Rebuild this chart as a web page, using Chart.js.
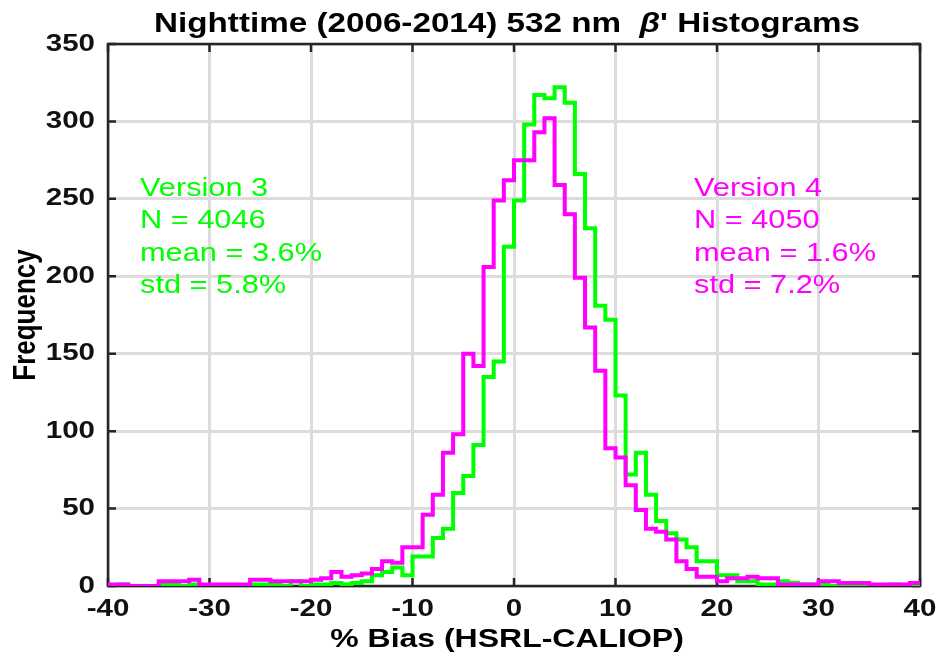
<!DOCTYPE html>
<html>
<head>
<meta charset="utf-8">
<title>Nighttime 532 nm beta' histograms</title>
<script src="https://cdn.jsdelivr.net/npm/chart.js@4.4.1/dist/chart.umd.min.js"></script>
<style>
  html, body { margin: 0; padding: 0; background: #fff; }
  #wrap { width: 936px; height: 659px; }
</style>
</head>
<body>
<div id="wrap"><canvas id="chart" width="936" height="659"></canvas></div>
<script>
// ---------- Data (1 % bins) ----------
const binEdges = [
  -40, -39, -38, -37, -36, -35, -34, -33, -32, -31,
  -30, -29, -28, -27, -26, -25, -24, -23, -22, -21,
  -20, -19, -18, -17, -16, -15, -14, -13, -12, -11,
  -10, -9, -8, -7, -6, -5, -4, -3, -2, -1,
  0, 1, 2, 3, 4, 5, 6, 7, 8, 9,
  10, 11, 12, 13, 14, 15, 16, 17, 18, 19,
  20, 21, 22, 23, 24, 25, 26, 27, 28, 29,
  30, 31, 32, 33, 34, 35, 36, 37, 38, 39, 40
];

// Version 3 (green)
const v3Counts = [
  0, 1, 0, 0, 0, 1, 1, 0, 1, 0,
  0, 0, 0, 0, 1, 1, 1, 0, 3, 0,
  1, 1, 2, 1, 2, 3, 7, 9, 12, 7,
  19, 19, 31, 37, 60, 71, 91, 135, 145, 219,
  249, 298, 317, 315, 322, 312, 266, 231, 181, 172,
  123, 72, 86, 59, 42, 34, 30, 25, 16, 16,
  7, 7, 3, 3, 1, 1, 3, 2, 1, 1,
  1, 0, 1, 0, 1, 0, 0, 1, 0, 1
];

// Version 4 (magenta)
const v4Counts = [
  1, 1, 0, 0, 0, 3, 3, 3, 4, 1,
  1, 1, 1, 1, 4, 4, 3, 3, 3, 3,
  4, 5, 9, 6, 7, 8, 11, 16, 15, 25,
  25, 46, 59, 86, 98, 150, 142, 206, 249, 262,
  275, 275, 293, 302, 259, 240, 199, 167, 139, 89,
  83, 65, 49, 37, 35, 30, 16, 11, 6, 6,
  3, 5, 5, 6, 5, 5, 1, 1, 1, 1,
  3, 3, 2, 2, 2, 1, 1, 1, 1, 2
];

const xTicks = [-40, -30, -20, -10, 0, 10, 20, 30, 40];
const yTicks = [0, 50, 100, 150, 200, 250, 300, 350];

const v3Text = ["Version 3", "N = 4046", "mean = 3.6%", "std = 5.8%"];
const v4Text = ["Version 4", "N = 4050", "mean = 1.6%", "std = 7.2%"];

const GREEN = "#00ff00";
const MAGENTA = "#ff00ff";
const AXIS = "#262626";
const FONT = "'Liberation Sans', Arial, Helvetica, sans-serif";
const SX = 1.23; // the figure is stretched sideways, so is its text

// stairs: each left edge carries its bin count, last edge repeats the final bin
function stairs(counts) {
  return binEdges.map((e, i) => ({ x: e, y: counts[Math.min(i, counts.length - 1)] }));
}

function wideText(ctx, s, x, y, align) {
  ctx.save();
  ctx.translate(x, y);
  ctx.scale(SX, 1);
  ctx.textAlign = align;
  ctx.fillText(s, 0, 0);
  ctx.restore();
}

// ---------- Frame, inward ticks, texts ----------
const decor = {
  id: "decor",
  beforeDatasetsDraw(chart) {
    const { ctx, chartArea: a, scales: { x, y } } = chart;
    ctx.save();
    ctx.strokeStyle = AXIS;
    ctx.lineWidth = 2.5;
    ctx.strokeRect(a.left, a.top, a.right - a.left, a.bottom - a.top);
    ctx.beginPath();
    xTicks.forEach(v => {
      const px = x.getPixelForValue(v);
      ctx.moveTo(px, a.bottom); ctx.lineTo(px, a.bottom - 8);
      ctx.moveTo(px, a.top); ctx.lineTo(px, a.top + 8);
    });
    yTicks.forEach(v => {
      const py = y.getPixelForValue(v);
      ctx.moveTo(a.left, py); ctx.lineTo(a.left + 8, py);
      ctx.moveTo(a.right, py); ctx.lineTo(a.right - 8, py);
    });
    ctx.stroke();
    ctx.restore();
  },
  afterDraw(chart) {
    const { ctx, chartArea: a, scales: { x, y } } = chart;
    const cx = 507;
    ctx.save();
    ctx.fillStyle = "#111";

    // tick labels
    ctx.font = "bold 24px " + FONT;
    ctx.textBaseline = "middle";
    xTicks.forEach(v => wideText(ctx, String(v), x.getPixelForValue(v), a.bottom + 23, "center"));
    yTicks.forEach(v => wideText(ctx, String(v), a.left - 13, y.getPixelForValue(v), "right"));

    // title with italic beta
    ctx.fillStyle = "#000";
    ctx.textBaseline = "alphabetic";
    const parts = [
      { t: "Nighttime (2006-2014) 532 nm  ", f: "bold 27px " + FONT },
      { t: "\u03b2", f: "italic bold 27px " + FONT },
      { t: "' Histograms", f: "bold 27px " + FONT }
    ];
    let total = 0;
    parts.forEach(p => { ctx.font = p.f; p.w = ctx.measureText(p.t).width * SX; total += p.w; });
    let tx = cx - total / 2;
    parts.forEach(p => { ctx.font = p.f; wideText(ctx, p.t, tx, 32, "left"); tx += p.w; });

    // axis titles
    ctx.font = "bold 26px " + FONT;
    ctx.textBaseline = "middle";
    wideText(ctx, "% Bias (HSRL-CALIOP)", cx, 640, "center");
    ctx.save();
    ctx.translate(26, (a.top + a.bottom) / 2);
    ctx.rotate(-Math.PI / 2);
    ctx.scale(1, SX);
    ctx.textAlign = "center";
    ctx.fillText("Frequency", 0, 0);
    ctx.restore();

    // stats
    ctx.font = "25px " + FONT;
    ctx.fillStyle = GREEN;
    v3Text.forEach((s, i) => wideText(ctx, s, 140, 189 + i * 32.5, "left"));
    ctx.fillStyle = MAGENTA;
    v4Text.forEach((s, i) => wideText(ctx, s, 694, 189 + i * 32.5, "left"));
    ctx.restore();
  }
};

new Chart(document.getElementById("chart"), {
  type: "line",
  data: {
    datasets: [
      { label: "Version 3", data: stairs(v3Counts), borderColor: GREEN, order: 2 },
      { label: "Version 4", data: stairs(v4Counts), borderColor: MAGENTA, order: 1 }
    ]
  },
  options: {
    responsive: false,
    animation: false,
    parsing: false,
    layout: { padding: { left: 0, right: 16, top: 44, bottom: 0 } },
    elements: {
      line: { borderWidth: 4, stepped: "before", tension: 0, borderJoinStyle: "miter", borderCapStyle: "butt" },
      point: { radius: 0 }
    },
    plugins: { legend: { display: false }, tooltip: { enabled: false }, title: { display: false } },
    scales: {
      x: {
        type: "linear",
        min: -40, max: 40,
        afterBuildTicks: s => { s.ticks = xTicks.map(v => ({ value: v })); },
        afterFit: s => { s.height = 73; s.paddingLeft = 0; s.paddingRight = 0; },
        grid: { color: "#dcdcdc", lineWidth: 3, drawTicks: false },
        border: { display: false },
        ticks: { display: false }
      },
      y: {
        type: "linear",
        min: 0, max: 350,
        afterBuildTicks: s => { s.ticks = yTicks.map(v => ({ value: v })); },
        afterFit: s => { s.width = 108; s.paddingTop = 0; s.paddingBottom = 0; },
        grid: { color: "#dcdcdc", lineWidth: 3, drawTicks: false },
        border: { display: false },
        ticks: { display: false }
      }
    }
  },
  plugins: [decor]
});
</script>
</body>
</html>
